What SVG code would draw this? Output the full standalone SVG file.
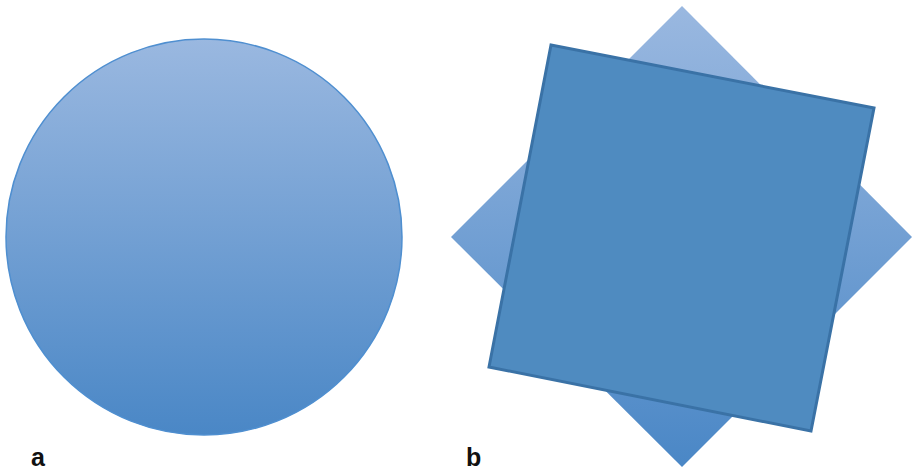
<svg xmlns="http://www.w3.org/2000/svg" width="915" height="472" viewBox="0 0 915 472">
<defs>
<linearGradient id="gc" x1="0" y1="0" x2="0" y2="1">
<stop offset="0" stop-color="#9ab8e0"/>
<stop offset="1" stop-color="#4a87c6"/>
</linearGradient>
<linearGradient id="gd" x1="0" y1="0" x2="0" y2="1">
<stop offset="0" stop-color="#9ab8e0"/>
<stop offset="1" stop-color="#4a87c6"/>
</linearGradient>
<style>
.lbl{font-family:"Liberation Sans",Arial,sans-serif;font-weight:bold;font-size:25px;fill:#111}
</style>
</defs>
<rect width="915" height="472" fill="#fff"/>
<g id="circle"><ellipse cx="204" cy="237" rx="198" ry="198" fill="url(#gc)" stroke="#4f8fd0" stroke-width="1.5"/></g>
<g id="diamond"><polygon points="682,6 912,237 682,467 451,237" fill="url(#gd)"/></g>
<g id="square"><polygon points="551,45 874,108 811,431 489,367" fill="#4f8bc0" stroke="#3a72a6" stroke-width="3" stroke-linejoin="miter"/></g>
<text class="lbl" x="31" y="466">a</text>
<text class="lbl" x="466" y="466">b</text>
</svg>
